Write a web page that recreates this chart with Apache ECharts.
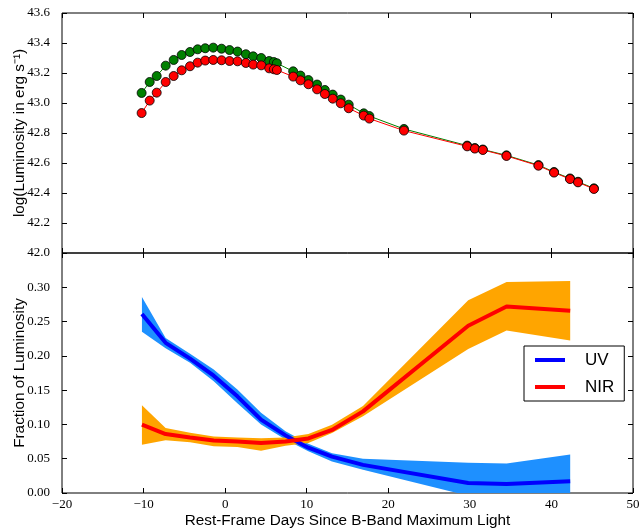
<!DOCTYPE html>
<html><head><meta charset="utf-8">
<script src="https://cdn.jsdelivr.net/npm/echarts@6/dist/echarts.min.js"></script>
<style>html,body{margin:0;padding:0;background:#fff}#c{width:641px;height:531px}</style>
</head><body><div id="c"></div>
<script>
// Top panel: light curve
const lcDays = [-10.24,-9.25,-8.39,-7.29,-6.31,-5.33,-4.31,-3.37,-2.44,-1.46,-0.44,0.54,1.52,2.54,3.44,4.42,5.40,5.97,6.34,8.34,9.23,10.21,11.27,12.22,13.19,14.17,15.15,16.99,17.68,21.92,29.67,30.61,31.59,34.49,38.41,40.32,42.28,43.26,45.21];
const lcGreen = [43.067,43.140,43.180,43.249,43.287,43.320,43.340,43.358,43.365,43.369,43.362,43.353,43.343,43.325,43.311,43.300,43.280,43.273,43.265,43.211,43.183,43.153,43.123,43.087,43.056,43.023,42.989,42.931,42.913,42.827,42.716,42.700,42.690,42.651,42.586,42.540,42.497,42.475,42.431];
const lcRed = [42.933,43.016,43.069,43.140,43.180,43.218,43.245,43.269,43.283,43.287,43.285,43.280,43.278,43.267,43.256,43.251,43.231,43.225,43.220,43.176,43.151,43.125,43.091,43.060,43.029,42.998,42.965,42.916,42.896,42.816,42.711,42.696,42.687,42.647,42.582,42.536,42.493,42.471,42.427];

// Bottom panel: luminosity fractions
const fracDays = [-10.2,-7.3,-4.3,-1.4,1.5,4.4,7.4,10.2,13.1,16.9,29.8,34.5,42.3];
const uvFrac = [0.261,0.219,0.196,0.171,0.141,0.107,0.084,0.066,0.053,0.041,0.0146,0.013,0.017];
const uvHigh = [0.286,0.226,0.203,0.180,0.151,0.117,0.090,0.072,0.058,0.050,0.044,0.043,0.056];
const uvLow  = [0.235,0.211,0.190,0.163,0.131,0.100,0.078,0.061,0.046,0.034,-0.004,-0.008,-0.02];
const nirFrac = [0.0996,0.086,0.081,0.0767,0.0752,0.0729,0.075,0.0796,0.092,0.119,0.244,0.272,0.2657];
const nirHigh = [0.128,0.0947,0.088,0.0825,0.081,0.080,0.081,0.086,0.0996,0.127,0.281,0.3076,0.309];
const nirLow  = [0.0704,0.077,0.074,0.068,0.067,0.0617,0.069,0.073,0.0875,0.112,0.21,0.237,0.2225];

const xTickMin = -20, xTickMax = 50, xTickStep = 10;
const lumMin = 42.0, lumMax = 43.6, lumStep = 0.2;
const fracMin = 0, fracMax = 0.35, fracStep = 0.05;

const serif = 'Liberation Serif';
const sans = 'Liberation Sans';
const zip = (a, b) => a.map((v, i) => [v, b[i]]);
const minus = v => (v < 0 ? '\u2212' + Math.abs(v) : String(v));

function xAx(grid, pos, labels, name) {
  return {
    type: 'value', gridIndex: grid, position: pos, min: xTickMin, max: xTickMax, interval: xTickStep,
    axisLine: { show: false, onZero: false },
    axisTick: { show: true, inside: true, length: 5, lineStyle: { color: '#000', width: 1 } },
    axisLabel: { show: labels, formatter: minus, color: '#000', fontFamily: serif, fontSize: 13, margin: 5 },
    splitLine: { show: false },
    name: name || '', nameLocation: 'middle', nameGap: 20, nameMoveOverlap: false,
    nameTextStyle: { fontFamily: sans, fontSize: 15.3, color: '#000' }
  };
}
function yAx(grid, pos, mn, mx, step, labels, dec, name, hideMax) {
  return {
    type: 'value', gridIndex: grid, position: pos, min: mn, max: mx, interval: step,
    axisLine: { show: false, onZero: false },
    axisTick: { show: true, inside: true, length: 5, lineStyle: { color: '#000', width: 1 } },
    axisLabel: { show: labels, showMaxLabel: !hideMax, formatter: v => v.toFixed(dec), color: '#000', fontFamily: serif, fontSize: 13, margin: 12 },
    splitLine: { show: false },
    name: name || '', nameLocation: 'middle', nameGap: 35, nameMoveOverlap: false,
    nameTextStyle: { fontFamily: sans, fontSize: 15.3, color: '#000' }
  };
}

function bandSeries(lo, hi, color) {
  return {
    type: 'custom', xAxisIndex: 2, yAxisIndex: 2, clip: true, silent: true,
    data: fracDays.map((d, i) => [d, lo[i], hi[i]]),
    encode: { x: 0, y: [1, 2] },
    renderItem: function (params, api) {
      if (params.dataIndex !== 0) return;
      const pts = [];
      for (let i = 0; i < fracDays.length; i++) pts.push(api.coord([fracDays[i], hi[i]]));
      for (let i = fracDays.length - 1; i >= 0; i--) pts.push(api.coord([fracDays[i], lo[i]]));
      const cs = params.coordSys;
      return {
        type: 'polygon', shape: { points: pts }, style: { fill: color, stroke: null },
        clipPath: { type: 'rect', shape: { x: cs.x, y: cs.y, width: cs.width, height: cs.height } }
      };
    }
  };
}

const chart = echarts.init(document.getElementById('c'), null, { renderer: 'canvas' });
chart.setOption({
  animation: false,
  backgroundColor: '#fff',
  grid: [
    { left: 62, top: 13, width: 571, height: 240, show: true, borderColor: '#000', borderWidth: 1, backgroundColor: 'transparent', containLabel: false, outerBoundsMode: 'none' },
    { left: 62, top: 253, width: 571, height: 240, show: true, borderColor: '#000', borderWidth: 1, backgroundColor: 'transparent', containLabel: false, outerBoundsMode: 'none' }
  ],
  xAxis: [
    xAx(0, 'bottom', false), xAx(0, 'top', false),
    xAx(1, 'bottom', true, 'Rest-Frame Days Since B-Band Maximum Light'), xAx(1, 'top', false)
  ],
  yAxis: [
    yAx(0, 'left', lumMin, lumMax, lumStep, true, 1, 'log(Luminosity in erg s\u207B\u00B9)'),
    yAx(0, 'right', lumMin, lumMax, lumStep, false, 1),
    yAx(1, 'left', fracMin, fracMax, fracStep, true, 2, 'Fraction of Luminosity', true),
    yAx(1, 'right', fracMin, fracMax, fracStep, false, 2)
  ],
  legend: {
    data: ['UV', 'NIR'], left: 524, top: 346, orient: 'vertical', icon: 'rect',
    itemWidth: 30, itemHeight: 4, itemGap: 9, padding: [5, 10, 5, 11],
    backgroundColor: '#fff', borderColor: '#000', borderWidth: 1, borderRadius: 0,
    textStyle: { fontFamily: sans, fontSize: 17, color: '#000', lineHeight: 18, padding: [0, 0, 0, 15] }
  },
  series: [
    { name: 'green', type: 'line', xAxisIndex: 0, yAxisIndex: 0, data: zip(lcDays, lcGreen),
      symbol: 'circle', symbolSize: 9, itemStyle: { color: '#008000', borderColor: '#000', borderWidth: 0.8 },
      lineStyle: { color: '#008000', width: 1 }, z: 3 },
    { name: 'red', type: 'line', xAxisIndex: 0, yAxisIndex: 0, data: zip(lcDays, lcRed),
      symbol: 'circle', symbolSize: 9, itemStyle: { color: '#FF0000', borderColor: '#000', borderWidth: 0.8 },
      lineStyle: { color: '#FF0000', width: 1 }, z: 4 },
    Object.assign(bandSeries(uvLow, uvHigh, '#1E90FF'), { z: 1 }),
    Object.assign(bandSeries(nirLow, nirHigh, '#FFA500'), { z: 1 }),
    { name: 'UV', type: 'line', xAxisIndex: 2, yAxisIndex: 2, data: zip(fracDays, uvFrac), symbol: 'none',
      color: '#0000FF', lineStyle: { color: '#0000FF', width: 4 }, z: 3 },
    { name: 'NIR', type: 'line', xAxisIndex: 2, yAxisIndex: 2, data: zip(fracDays, nirFrac), symbol: 'none',
      color: '#FF0000', lineStyle: { color: '#FF0000', width: 4 }, z: 4 }
  ]
});
</script>
</body></html>
